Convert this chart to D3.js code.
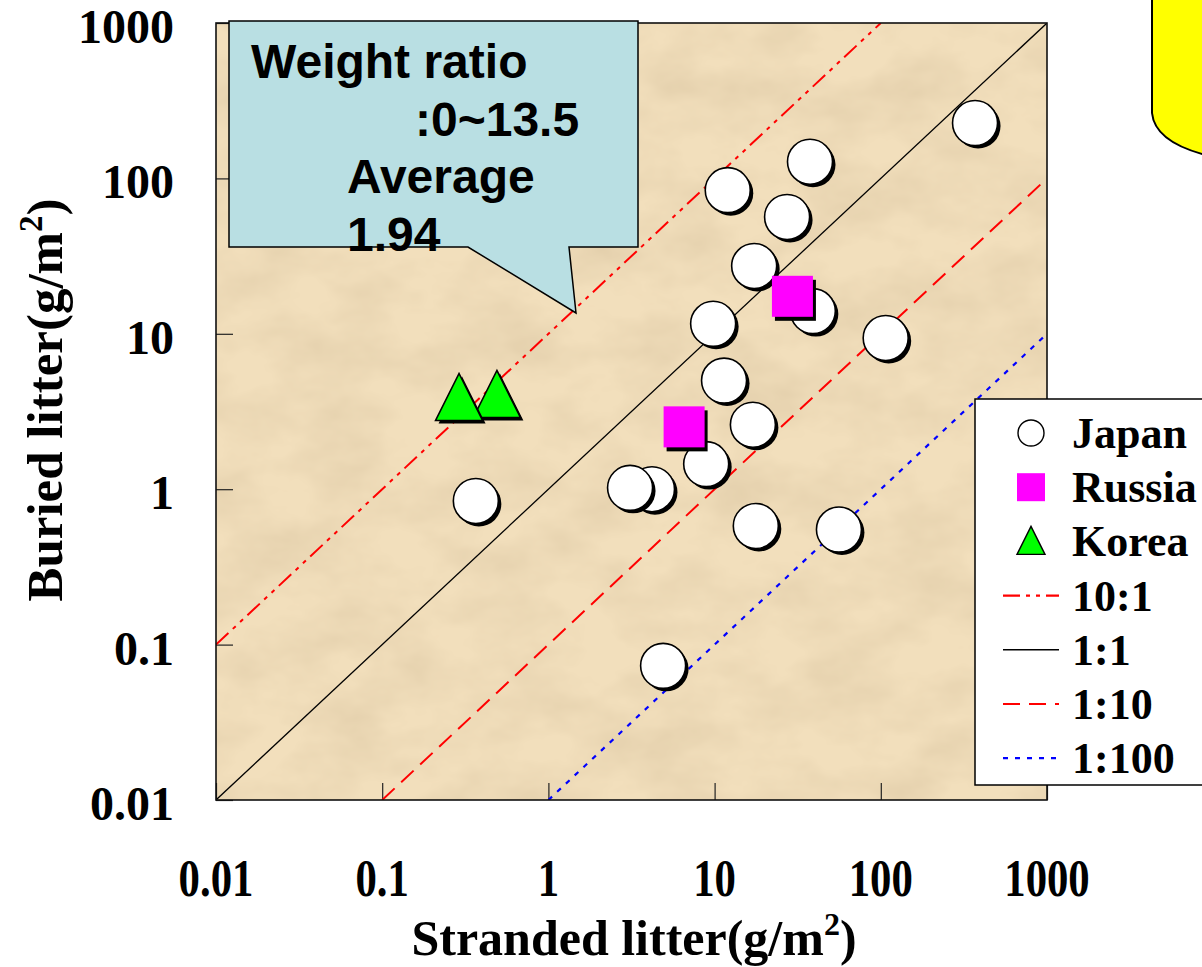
<!DOCTYPE html>
<html>
<head>
<meta charset="utf-8">
<script src="https://cdn.jsdelivr.net/npm/d3@7"></script>
<style>
  body { margin: 0; background: #fff; }
  text { font-family: "Liberation Serif", "Times New Roman", serif; font-weight: bold; }
</style>
</head>
<body>
<div id="canvas"></div>
<script>
// values (g/m2)
var japanX = [369, 37.5, 12.0, 27.3, 17.3, 39, 9.8, 107, 11.4, 17.0, 8.9, 4.2, 3.1, 0.366, 17.7, 56, 4.9];
var japanY = [227, 128, 84, 56.5, 27.3, 14.0, 11.6, 9.4, 5.0, 2.6, 1.45, 1.0, 1.02, 0.84, 0.58, 0.55, 0.073];
var russiaX = [6.6, 29.6];
var russiaY = [2.5, 17.3];
var koreaX = [0.49, 0.29];
var koreaY = [4.1, 3.92];

var ratios = [10, 1, 0.1, 0.01];
var ratioLabels = ["10:1", "1:1", "1:10", "1:100"];
var tickValues = [0.01, 0.1, 1, 10, 100, 1000];
var tickLabels = ["0.01", "0.1", "1", "10", "100", "1000"];

var W = 1202, H = 967;
var margin = {top: 23, right: 155, bottom: 167, left: 216};
var width = W - margin.left - margin.right;   // 831
var height = H - margin.top - margin.bottom;  // 777

var svg = d3.select("#canvas").append("svg")
    .attr("width", W)
    .attr("height", H);

// paper-ish texture for the plot background
var defs = svg.append("defs");
var filt = defs.append("filter").attr("id", "paper")
    .attr("x", 0).attr("y", 0).attr("width", "100%").attr("height", "100%");
filt.append("feTurbulence")
    .attr("type", "fractalNoise")
    .attr("baseFrequency", "0.012 0.02")
    .attr("numOctaves", 4)
    .attr("seed", 7);
filt.append("feColorMatrix")
    .attr("type", "matrix")
    .attr("values", "0 0 0 0 0.55  0 0 0 0 0.42  0 0 0 0 0.25  0 0 0 0.5 -0.17");
defs.append("clipPath").attr("id", "plotclip")
  .append("rect").attr("width", width).attr("height", height);

var g = svg.append("g")
    .attr("transform", "translate(" + margin.left + "," + margin.top + ")");

var x = d3.scaleLog().domain([0.01, 1000]).range([0, width]);
var y = d3.scaleLog().domain([0.01, 1000]).range([height, 0]);

g.append("rect")
    .attr("width", width).attr("height", height)
    .attr("fill", "#f2dfbc");
g.append("rect")
    .attr("width", width).attr("height", height)
    .attr("filter", "url(#paper)");

// ticks pointing inward
var xAxis = d3.axisBottom(x).tickValues(tickValues).tickSizeInner(-17).tickSizeOuter(0).tickFormat("");
var yAxis = d3.axisLeft(y).tickValues(tickValues).tickSizeInner(-17).tickSizeOuter(0).tickFormat("");
g.append("g").attr("transform", "translate(0," + height + ")").call(xAxis)
  .call(function(s){ s.select(".domain").remove(); s.selectAll("line").attr("stroke", "#222").attr("stroke-width", 1.2); });
g.append("g").call(yAxis)
  .call(function(s){ s.select(".domain").remove(); s.selectAll("line").attr("stroke", "#222").attr("stroke-width", 1.2); });

// tick labels
g.selectAll("text.xlab")
    .data(tickValues)
  .enter().append("text")
    .attr("class", "xlab")
    .attr("text-anchor", "middle")
    .attr("font-size", 45)
    .attr("transform", function(d) { return "translate(" + x(d) + "," + (height + 96) + ") scale(0.95,1.18)"; })
    .text(function(d, i) { return tickLabels[i]; });

g.selectAll("text.ylab")
    .data(tickValues)
  .enter().append("text")
    .attr("class", "ylab")
    .attr("text-anchor", "end")
    .attr("font-size", 48)
    .attr("x", -42)
    .attr("y", function(d) { return y(d) + 20; })
    .text(function(d, i) { return tickLabels[i]; });

// reference lines
var lineStyles = [
  {color: "#ff0000", dash: "17,6,4,6,4,6", w: 2},
  {color: "#000000", dash: null, w: 1.3},
  {color: "#ff0000", dash: "17,9", w: 2},
  {color: "#0000ff", dash: "5,7", w: 2.2}
];
var lines = g.append("g").attr("clip-path", "url(#plotclip)");
ratios.forEach(function(r, i) {
  var x0 = Math.max(x.domain()[0], y.domain()[0] / r);
  var x1 = Math.min(x.domain()[1], y.domain()[1] / r);
  lines.append("line")
      .attr("x1", x(x0)).attr("y1", y(x0 * r))
      .attr("x2", x(x1)).attr("y2", y(x1 * r))
      .attr("stroke", lineStyles[i].color)
      .attr("stroke-width", lineStyles[i].w)
      .attr("stroke-dasharray", lineStyles[i].dash);
});

// frame
g.append("rect")
    .attr("width", width).attr("height", height)
    .attr("fill", "none").attr("stroke", "#111").attr("stroke-width", 1.6);

// markers with a drop shadow
var tri = function(s) { return "M0," + (-s) + "L" + s + "," + s + "L" + (-s) + "," + s + "Z"; };

var japan = japanX.map(function(v, i) { return {x: v, y: japanY[i]}; });
var russia = russiaX.map(function(v, i) { return {x: v, y: russiaY[i]}; });
var korea = koreaX.map(function(v, i) { return {x: v, y: koreaY[i]}; });

var jg = g.selectAll("g.jp").data(japan).enter().append("g").attr("class", "jp")
    .attr("transform", function(d) { return "translate(" + x(d.x) + "," + y(d.y) + ")"; });
jg.append("circle").attr("r", 22.5).attr("cx", 3).attr("cy", 3).attr("fill", "#000");
jg.append("circle").attr("r", 22.5).attr("fill", "#fff").attr("stroke", "#000").attr("stroke-width", 1.6);

var rg = g.selectAll("g.ru").data(russia).enter().append("g").attr("class", "ru")
    .attr("transform", function(d) { return "translate(" + x(d.x) + "," + y(d.y) + ")"; });
rg.append("rect").attr("x", -18).attr("y", -17).attr("width", 41).attr("height", 41).attr("fill", "#000");
rg.append("rect").attr("x", -21).attr("y", -21).attr("width", 41).attr("height", 41).attr("fill", "#ff00ff");

var kg = g.selectAll("g.ko").data(korea).enter().append("g").attr("class", "ko")
    .attr("transform", function(d) { return "translate(" + x(d.x) + "," + y(d.y) + ")"; });
kg.append("path").attr("d", tri(23.5)).attr("transform", "translate(3,3)").attr("fill", "#000");
kg.append("path").attr("d", tri(23.5)).attr("fill", "#00ff00").attr("stroke", "#000").attr("stroke-width", 1.6);

// axis titles
svg.append("text")
    .attr("text-anchor", "middle")
    .attr("font-size", 50)
    .attr("transform", "translate(634,955)")
    .call(function(t) {
      t.append("tspan").text("Stranded litter(g/m");
      t.append("tspan").attr("font-size", 32).attr("dy", -20).text("2");
      t.append("tspan").attr("dy", 20).text(")");
    });

svg.append("text")
    .attr("text-anchor", "middle")
    .attr("font-size", 51)
    .attr("transform", "translate(62,400) rotate(-90)")
    .call(function(t) {
      t.append("tspan").text("Buried litter(g/m");
      t.append("tspan").attr("font-size", 33).attr("dy", -20).text("2");
      t.append("tspan").attr("dy", 20).text(")");
    });

// callout
var callout = svg.append("g");
callout.append("path")
    .attr("d", "M229,21 L638,21 L638,247 L569,247 L576,313 L468,247 L229,247 Z")
    .attr("fill", "#b9dfe3").attr("stroke", "#000").attr("stroke-width", 1.5);
var calloutLines = [
  {t: "Weight ratio", x: 251, y: 78},
  {t: ":0~13.5", x: 415, y: 136},
  {t: "Average", x: 347, y: 193},
  {t: "1.94", x: 347, y: 251}
];
callout.selectAll("text").data(calloutLines).enter().append("text")
    .attr("x", function(d) { return d.x; })
    .attr("y", function(d) { return d.y; })
    .attr("font-size", 48)
    .style("font-family", "'Liberation Sans', Arial, sans-serif")
    .text(function(d) { return d.t; });

// yellow box at top right (cut off)
svg.append("path")
    .attr("d", "M1152,-5 L1152,113 Q1155,143 1210,156 L1210,-5 Z")
    .attr("fill", "#ffff00").attr("stroke", "#000").attr("stroke-width", 2);

// legend
var leg = svg.append("g");
leg.append("rect")
    .attr("x", 975).attr("y", 399).attr("width", 260).attr("height", 386)
    .attr("fill", "#fff").attr("stroke", "#000").attr("stroke-width", 1.5);
var legY0 = 433, legDy = 54.2;
var legItems = ["Japan", "Russia", "Korea"].concat(ratioLabels);
leg.selectAll("text").data(legItems).enter().append("text")
    .attr("x", 1072)
    .attr("y", function(d, i) { return legY0 + i * legDy + 15; })
    .attr("font-size", 44)
    .text(function(d) { return d; });
leg.append("circle").attr("cx", 1031).attr("cy", legY0).attr("r", 13)
    .attr("fill", "#fff").attr("stroke", "#000").attr("stroke-width", 1.4);
leg.append("rect").attr("x", 1017).attr("y", legY0 + legDy - 14).attr("width", 28).attr("height", 28)
    .attr("fill", "#ff00ff");
leg.append("path").attr("d", tri(14)).attr("transform", "translate(1031," + (legY0 + 2 * legDy - 1) + ")")
    .attr("fill", "#00ff00").attr("stroke", "#000").attr("stroke-width", 1.4);
ratios.forEach(function(r, i) {
  leg.append("line")
      .attr("x1", 1003).attr("x2", 1059)
      .attr("y1", legY0 + (i + 3) * legDy).attr("y2", legY0 + (i + 3) * legDy)
      .attr("stroke", lineStyles[i].color)
      .attr("stroke-width", i === 1 ? 1.5 : 2.2)
      .attr("stroke-dasharray", lineStyles[i].dash);
});
</script>
</body>
</html>
